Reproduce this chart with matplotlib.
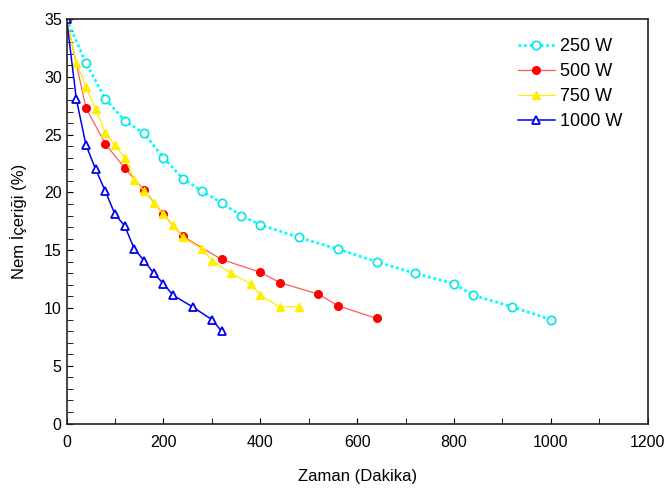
import matplotlib
matplotlib.use("Agg")
import matplotlib.pyplot as plt
from matplotlib.ticker import MultipleLocator

plt.rcParams["font.family"] = ["Liberation Sans", "DejaVu Sans"]

# Drying curves: time (min) vs moisture content (%)
t_250 = [0, 40, 80, 120, 160, 200, 240, 280, 320, 360, 400, 480, 560, 640, 720, 800, 840, 920, 1000]
m_250 = [35, 31.2, 28.1, 26.2, 25.1, 23.0, 21.2, 20.1, 19.1, 18.0, 17.2, 16.1, 15.1, 14.0, 13.0, 12.1, 11.1, 10.1, 9.0]

t_500 = [0, 40, 80, 120, 160, 200, 240, 320, 400, 440, 520, 560, 640]
m_500 = [35, 27.3, 24.2, 22.1, 20.2, 18.1, 16.2, 14.2, 13.1, 12.2, 11.2, 10.2, 9.1]

t_750 = [0, 20, 40, 60, 80, 100, 120, 140, 160, 180, 200, 220, 240, 280, 300, 340, 380, 400, 440, 480]
m_750 = [35, 31.2, 29.1, 27.2, 25.1, 24.1, 23.0, 21.1, 20.1, 19.1, 18.1, 17.2, 16.1, 15.1, 14.1, 13.0, 12.1, 11.1, 10.1, 10.1]

t_1000 = [0, 20, 40, 60, 80, 100, 120, 140, 160, 180, 200, 220, 260, 300, 320]
m_1000 = [35, 28.1, 24.1, 22.0, 20.1, 18.1, 17.1, 15.1, 14.1, 13.0, 12.1, 11.1, 10.1, 9.0, 8.0]

fig = plt.figure(figsize=(6.66, 4.88), dpi=100)
ax = fig.add_axes([0.100, 0.132, 0.8725, 0.829])

ax.plot(t_250, m_250, linestyle=(0, (1, 1)), color="#00ffff", linewidth=2,
        marker="o", markersize=6, markerfacecolor="white", markeredgecolor="#00e5e5",
        markeredgewidth=1.2, label="250 W")
ax.plot(t_500, m_500, linestyle="-", color="#ff5a5a", linewidth=0.9,
        marker="o", markersize=5.5, markerfacecolor="red", markeredgecolor="red",
        label="500 W")
ax.plot(t_750, m_750, linestyle="-", color="#ffee00", linewidth=0.9,
        marker="^", markersize=6, markerfacecolor="#ffee00", markeredgecolor="#ffee00",
        label="750 W")
ax.plot(t_1000, m_1000, linestyle="-", color="#0000ee", linewidth=1.1,
        marker="^", markersize=5.5, markerfacecolor="white", markeredgecolor="#0000ee",
        markeredgewidth=1.3, label="1000 W")

ax.set_xlim(0, 1200)
ax.set_ylim(0, 35)
ax.xaxis.set_major_locator(MultipleLocator(200))
ax.xaxis.set_minor_locator(MultipleLocator(100))
ax.yaxis.set_major_locator(MultipleLocator(5))
ax.yaxis.set_minor_locator(MultipleLocator(1))
ax.tick_params(which="both", direction="in", labelsize=11.5, length=4)
ax.tick_params(axis="x", pad=8)
for s in ax.spines.values():
    s.set_linewidth(1.2)
    s.set_color("#222222")

ax.set_xlabel("Zaman (Dakika)", fontsize=12, labelpad=14)
ax.set_ylabel("Nem İçeriği (%)", fontsize=12, labelpad=12)

ax.legend(loc="upper left", bbox_to_anchor=(0.764, 0.971), borderaxespad=0,
          frameon=False, fontsize=13, handlelength=2.05, handletextpad=0.3,
          labelspacing=0.44)

fig.savefig("out.png", dpi=100)
